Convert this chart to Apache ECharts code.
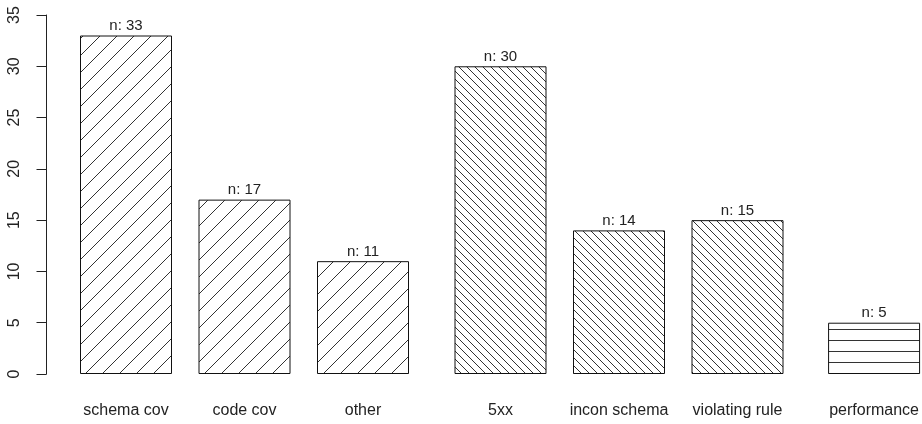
<!DOCTYPE html>
<html><head><meta charset="utf-8">
<script src="https://cdn.jsdelivr.net/npm/echarts@6/dist/echarts.min.js"></script>
<style>html,body{margin:0;padding:0;background:#fff}#chart{width:922px;height:424px}</style>
</head><body><div id="chart"></div>
<script>
// Issue counts per category, shown in three groups
const categories = ['schema cov', 'code cov', 'other', '5xx', 'incon schema', 'violating rule', 'performance'];
const counts = [33, 17, 11, 30, 14, 15, 5];
const groupSizes = [3, 3, 1];
const groupHatch = ['forward', 'back', 'horizontal'];
const yTicks = [0, 5, 10, 15, 20, 25, 30, 35];

const FONT = "'Liberation Sans', Arial, Helvetica, sans-serif";
const INK = '#222';

// Build a repeating hatch tile
function hatch(kind) {
  const c = document.createElement('canvas');
  let w, h;
  if (kind === 'forward') { w = h = 17; }
  else if (kind === 'back') { w = h = 8; }
  else { w = 4; h = 11; }
  c.width = w; c.height = h;
  const g = c.getContext('2d');
  g.fillStyle = '#fff'; g.fillRect(0, 0, w, h);
  g.strokeStyle = '#333'; g.lineWidth = 1;
  g.beginPath();
  if (kind === 'forward') {
    for (const k of [-w, 0, w]) { g.moveTo(k, h); g.lineTo(k + w, 0); }
  } else if (kind === 'back') {
    for (const k of [-w, 0, w]) { g.moveTo(k, 0); g.lineTo(k + w, h); }
  } else {
    g.moveTo(0, 10.5); g.lineTo(w, 10.5);
  }
  g.stroke();
  return { image: c, repeat: 'repeat' };
}

const chart = echarts.init(document.getElementById('chart'), null, { renderer: 'canvas' });

const unit = 118.5;                        // horizontal slot per bar
const firstBarCenters = [126, 500.5, 874.5]; // centre of each group's first bar
const axisX = 46.5;
const plotTop = 15, plotBottom = 50;
const canvasW = 922;

const grids = [], xAxes = [], yAxes = [], series = [];
let start = 0;
groupSizes.forEach((n, gi) => {
  const cats = categories.slice(start, start + n);
  const vals = counts.slice(start, start + n);
  start += n;
  // keep each group's grid inside the canvas while centring bars on their slots
  let slot = unit;
  const lastCenter = firstBarCenters[gi] + unit * (n - 1);
  if (lastCenter + unit / 2 > canvasW) slot = 2 * (canvasW - lastCenter);
  const left = firstBarCenters[gi] - slot / 2;
  grids.push({ left: left, top: plotTop, bottom: plotBottom, width: slot * n, containLabel: false });
  xAxes.push({
    type: 'category', gridIndex: gi, data: cats,
    axisLine: { show: false }, axisTick: { show: false },
    axisLabel: { margin: 29, fontSize: 16, fontFamily: FONT, color: INK, interval: 0 }
  });
  yAxes.push({
    type: 'value', gridIndex: gi, min: yTicks[0], max: yTicks[yTicks.length - 1], interval: 5,
    show: gi === 0,
    offset: gi === 0 ? left - axisX : 0,
    splitLine: { show: false },
    axisLine: { show: true, lineStyle: { color: INK, width: 1 } },
    axisTick: { show: true, length: 10, lineStyle: { color: INK } },
    axisLabel: { rotate: 90, margin: 24, fontSize: 16, fontFamily: FONT, color: INK }
  });
  series.push({
    type: 'bar', xAxisIndex: gi, yAxisIndex: gi, data: vals, barWidth: 92,
    itemStyle: { color: hatch(groupHatch[gi]), borderColor: '#111', borderWidth: 1 },
    label: { show: true, position: 'top', distance: 2, formatter: 'n: {c}',
             fontSize: 15, fontFamily: FONT, color: INK },
    silent: true, animation: false
  });
});

chart.setOption({
  backgroundColor: '#fff',
  animation: false,
  grid: grids, xAxis: xAxes, yAxis: yAxes, series: series
});
</script>
</body></html>
